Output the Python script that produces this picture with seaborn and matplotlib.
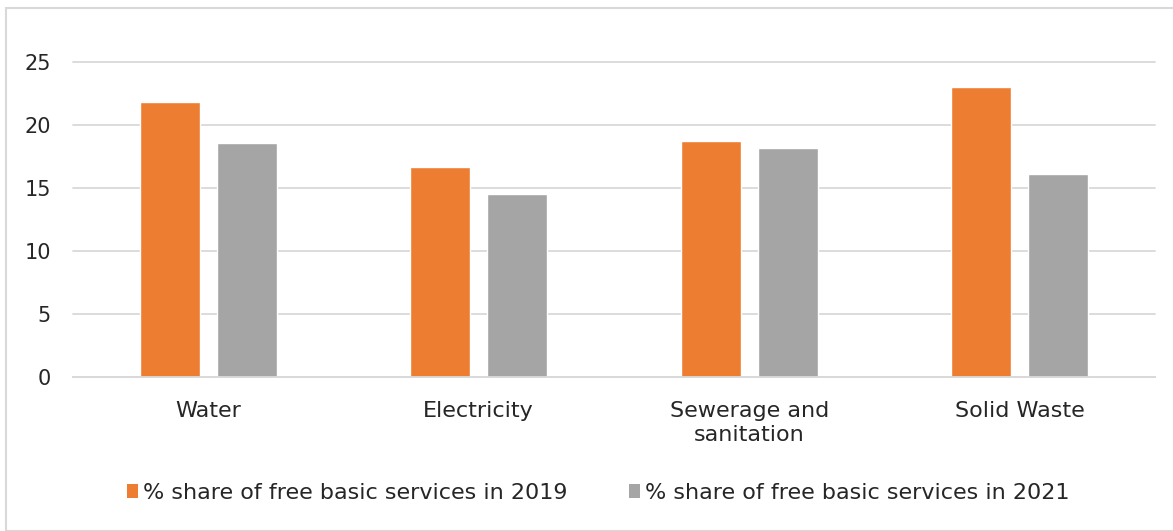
import matplotlib
matplotlib.use("Agg")
import matplotlib.pyplot as plt
import seaborn as sns
import pandas as pd
from matplotlib.patches import Rectangle, Patch

categories = ["Water", "Electricity", "Sewerage and\nsanitation", "Solid Waste"]
series_names = ["% share of free basic services in 2019", "% share of free basic services in 2021"]
values_2019 = [21.8, 16.7, 18.7, 23.0]
values_2021 = [18.6, 14.5, 18.2, 16.1]
y_ticks = [0, 5, 10, 15, 20, 25]
colors = ["#ED7D31", "#A5A5A5"]

df = pd.DataFrame({
    "category": categories * 2,
    "series": [series_names[0]] * 4 + [series_names[1]] * 4,
    "value": values_2019 + values_2021,
})

sns.set_theme(style="white")
plt.rcParams["font.family"] = ["DejaVu Sans"]

fig = plt.figure(figsize=(11.73, 5.31), dpi=100)
ax = fig.add_axes([0.0622, 0.290, 0.9225, 0.5932])

sns.barplot(data=df, x="category", y="value", hue="series", palette=colors,
            width=0.57, gap=0.22, ax=ax, legend=False, saturation=1,
            order=categories, hue_order=series_names)

ax.set_ylim(0, 25)
ax.set_xlim(-0.5, 3.5)
ax.set_yticks(y_ticks)
ax.set_yticklabels([str(t) for t in y_ticks])
ax.yaxis.grid(True, color="#D9D9D9", linewidth=1.3)
for gl in ax.get_ygridlines():
    gl.set_clip_on(False)
ax.set_axisbelow(True)
for s in ["top", "right", "left"]:
    ax.spines[s].set_visible(False)
ax.spines["bottom"].set_color("#D9D9D9")
ax.spines["bottom"].set_linewidth(1.3)
ax.set_xlabel("")
ax.set_ylabel("")
ax.tick_params(axis="both", length=0, colors="#262626")
ax.tick_params(axis="y", pad=16, labelsize=15)
ax.tick_params(axis="x", pad=17, labelsize=16)
for lab in ax.get_xticklabels():
    lab.set_linespacing(1.3)

handles = [Patch(facecolor=c, edgecolor="none") for c in colors]
fig.legend(handles, series_names, loc="center", bbox_to_anchor=(0.51, 0.072),
           ncol=2, frameon=False, fontsize=16, handlelength=0.5, handleheight=0.55,
           handletextpad=0.2, columnspacing=2.8, labelcolor="#262626")

fig.patches.append(Rectangle((6 / 1173, 0), 1.0, 1 - 8 / 531, transform=fig.transFigure,
                             fill=False, edgecolor="#D9D9D9", linewidth=1.5))

fig.savefig("out.png", dpi=100)
